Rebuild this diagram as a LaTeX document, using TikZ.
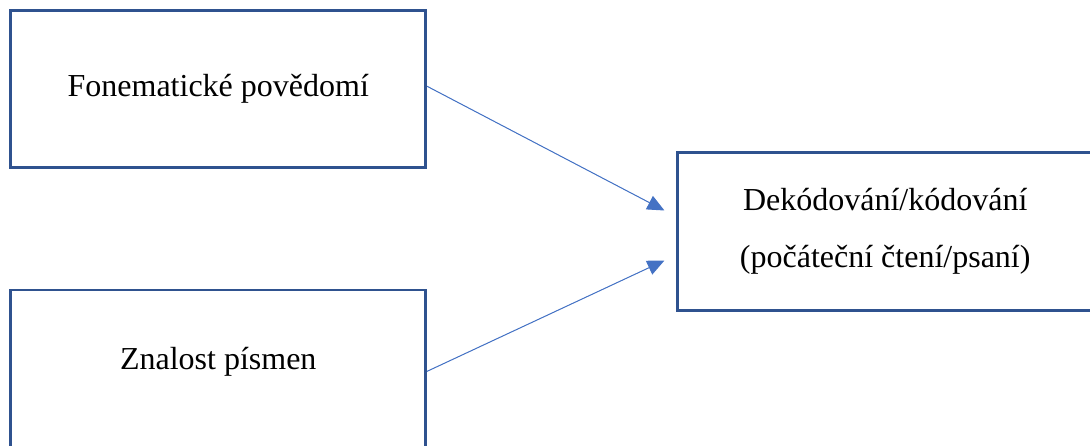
\documentclass[tikz,border=0pt]{standalone}
\usepackage{fontspec}
\setmainfont{Liberation Serif}
\usetikzlibrary{arrows.meta,positioning,calc}
\definecolor{boxblue}{HTML}{2F528F}
\definecolor{arrblue}{HTML}{4472C4}

\begin{document}
\begin{tikzpicture}[
  x=1pt, y=-1pt,
  font=\fontsize{32}{57}\selectfont,
  box/.style={draw=boxblue, line width=2.6pt, align=center,
    minimum width=415pt, minimum height=157pt, inner sep=0pt},
  arr/.style={-{Triangle[length=17pt, width=15pt]}, draw=arrblue, fill=arrblue, line width=1pt}
]
  \useasboundingbox (0,0) rectangle (1090,445);
  \node[box] (fon) at (218.25,89.25) {Fonematické povědomí};
  \node[box, below=119.5pt of fon, minimum height=159pt, text depth=21pt] (zna) {Znalost písmen};
  \node[box, minimum height=158pt] (dek) at (885.25,231.5) {Dekódování/kódování\\(počáteční čtení/psaní)};

  % arrow ends in front of the target box
  \coordinate (fonout) at ($(fon.east)+(0,-3)$);
  \coordinate (znaout) at ($(zna.east)+(0,2)$);
  \coordinate (dekin1) at ($(dek.west)+(-12,-21)$);
  \coordinate (dekin2) at ($(dek.west)+(-12,29)$);

  \draw[arr] (fonout) -- (dekin1);
  \draw[arr] (znaout) -- (dekin2);
\end{tikzpicture}
\end{document}
